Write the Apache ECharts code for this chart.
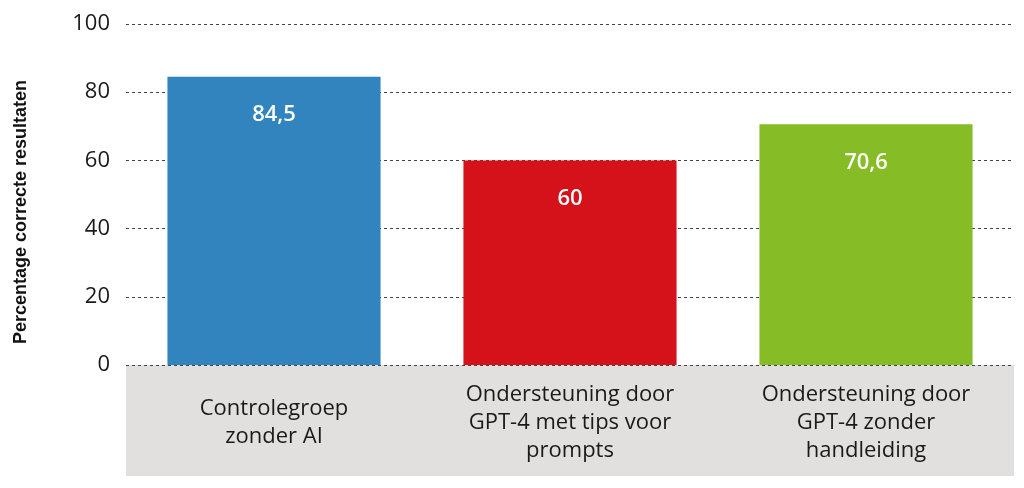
<!DOCTYPE html>
<html>
<head>
<meta charset="utf-8">
<script src="https://cdn.jsdelivr.net/npm/echarts@6/dist/echarts.min.js"></script>
<style>
  html, body { margin: 0; padding: 0; background: #fff; }
  #chart { width: 1024px; height: 488px; }
</style>
</head>
<body>
<div id="chart"></div>
<script>
var myChart = echarts.init(document.getElementById('chart'));

// categorieen en waarden
var categories = [
    'Controlegroep\nzonder AI',
    'Ondersteuning door\nGPT-4 met tips voor\nprompts',
    'Ondersteuning door\nGPT-4 zonder\nhandleiding'
];
var values = [84.5, 60, 70.6];
var barColors = ['#3284bf', '#d51119', '#86bc25'];
var yTicks = [0, 20, 40, 60, 80, 100];
var yTitle = 'Percentage correcte resultaten';

var fontMain = '"Open Sans", sans-serif';

var seriesData = values.map(function (v, i) {
    return { value: v, itemStyle: { color: barColors[i] } };
});

var option = {
    animation: false,
    grid: { left: 126, right: 10, top: 24, bottom: 123 },
    graphic: [
        {
            type: 'rect',
            left: 126, top: 365, z: 0,
            shape: { width: 888, height: 111 },
            style: { fill: '#e2dfdf' }
        },
        {
            type: 'text',
            x: 21, y: 212,
            rotation: Math.PI / 2,
            style: {
                text: yTitle,
                fill: '#111',
                font: 'bold 18px "Liberation Sans Narrow", sans-serif',
                align: 'center',
                verticalAlign: 'middle'
            }
        }
    ],
    xAxis: {
        type: 'category',
        data: categories,
        axisLine: { show: false },
        axisTick: { show: false },
        axisLabel: {
            margin: 58,
            verticalAlign: 'middle',
            color: '#1a1a1a',
            fontFamily: fontMain,
            fontSize: 22,
            lineHeight: 28
        },
        z: 5
    },
    yAxis: {
        type: 'value',
        min: 0, max: 100, interval: 20,
        axisLine: { show: false },
        axisTick: { show: false },
        axisLabel: {
            margin: 16,
            color: '#1a1a1a',
            fontFamily: fontMain,
            fontSize: 22,
            customValues: yTicks
        },
        splitLine: {
            lineStyle: { color: '#444', width: 1, type: [3, 3] }
        }
    },
    series: [{
        type: 'bar',
        data: seriesData,
        barWidth: '72%',
        z: 3,
        label: {
            show: true,
            position: 'insideTop',
            distance: 27,
            color: '#fff',
            fontFamily: fontMain,
            fontWeight: 600,
            fontSize: 22,
            formatter: function (p) {
                return String(p.value).replace('.', ',');
            }
        }
    }]
};
myChart.setOption(option);
window.addEventListener('resize', function () { myChart.resize(); });
</script>
</body>
</html>
